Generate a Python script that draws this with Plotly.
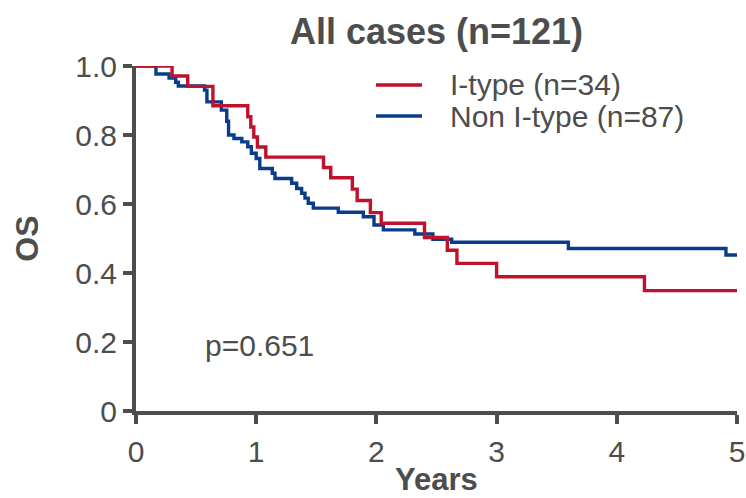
import plotly.graph_objects as go

# I-type (n=34) Kaplan-Meier step curve (years, survival)
itype_t = [0, 0.30, 0.43, 0.64, 0.93, 0.955, 0.98, 1.01, 1.08, 1.56, 1.62, 1.80, 1.84,
           1.95, 2.04, 2.40, 2.59, 2.67, 3.00, 4.23, 5.0]
itype_s = [1.0, 0.971, 0.941, 0.885, 0.853, 0.823, 0.794, 0.765, 0.736, 0.706, 0.676, 0.643,
           0.610, 0.575, 0.544, 0.503, 0.466, 0.428, 0.389, 0.349, 0.349]

# Non I-type (n=87)
non_t = [0, 0.166, 0.275, 0.33, 0.352, 0.57, 0.59, 0.71, 0.755, 0.77, 0.815, 0.88, 0.93,
         0.96, 1.0, 1.03, 1.134, 1.156, 1.295, 1.337, 1.378, 1.406, 1.433, 1.475, 1.683,
         1.891, 1.98, 2.058, 2.32, 2.47, 2.626, 3.597, 4.908, 5.0]
non_s = [1.0, 0.977, 0.965, 0.953, 0.942, 0.93, 0.896, 0.872, 0.84, 0.80, 0.79, 0.78, 0.766,
         0.747, 0.732, 0.703, 0.689, 0.674, 0.66, 0.645, 0.631, 0.617, 0.602, 0.588, 0.576,
         0.563, 0.539, 0.525, 0.513, 0.498, 0.489, 0.471, 0.452, 0.452]

series_names = ["I-type (n=34)", "Non I-type (n=87)"]

x_ticks = [0, 1, 2, 3, 4, 5]
y_ticks = [0, 0.2, 0.4, 0.6, 0.8, 1.0]
y_tick_labels = ["0", "0.2", "0.4", "0.6", "0.8", "1.0"]

RED = "#C0122C"
BLUE = "#0A3C8C"
GREY = "#4D4D4D"
FONT = "Liberation Sans, Arial, sans-serif"

fig = go.Figure()
fig.add_trace(go.Scatter(x=non_t, y=non_s, mode="lines", line_shape="hv",
                         line=dict(color=BLUE, width=3.4), name=series_names[1]))
fig.add_trace(go.Scatter(x=itype_t, y=itype_s, mode="lines", line_shape="hv",
                         line=dict(color=RED, width=3.4), name=series_names[0]))

# p-value
fig.add_annotation(x=0.557, y=0.19, xref="x", yref="y", text="p=0.651", showarrow=False,
                   xanchor="left", yanchor="middle", font=dict(size=30, color=GREY, family=FONT))

# legend (drawn manually to match sample length and row spacing)
legend_rows = [(series_names[0], RED, 0.945), (series_names[1], BLUE, 0.855)]
for label, col, ypos in legend_rows:
    fig.add_shape(type="line", xref="paper", yref="paper", x0=0.3993, x1=0.4759,
                  y0=ypos, y1=ypos, line=dict(color=col, width=3.4))
    fig.add_annotation(x=0.519, y=ypos, xref="paper", yref="paper", text=label,
                       showarrow=False, xanchor="left", yanchor="middle",
                       font=dict(size=30, color=GREY, family=FONT))

# x-axis title as an annotation, sitting at the very bottom like in the reference
fig.add_annotation(x=0.5, y=-0.252, xref="paper", yref="paper", text="<b>Years</b>",
                   showarrow=False, xanchor="center", yanchor="bottom", borderpad=0,
                   font=dict(size=31, color=GREY, family=FONT))

axis_common = dict(showline=True, linewidth=4, linecolor=GREY, ticks="outside",
                   ticklen=9, tickwidth=4, tickcolor=GREY, showgrid=False, zeroline=False,
                   automargin=False, tickfont=dict(size=30, color=GREY, family=FONT))

fig.update_layout(
    width=746, height=498,
    margin=dict(l=136, r=9, t=66, b=87),
    paper_bgcolor="white", plot_bgcolor="white",
    font=dict(family=FONT, color=GREY),
    showlegend=False,
    title=dict(text="<b>All cases (n=121)</b>", x=0.5, xref="paper", y=1 - 31 / 498,
               yref="container", xanchor="center", yanchor="middle",
               font=dict(size=36, color=GREY, family=FONT)),
    xaxis=dict(range=[0, 5], tickvals=x_ticks, ticktext=[str(v) for v in x_ticks],
               ticklabelstandoff=2, **axis_common),
    yaxis=dict(range=[0, 1], tickvals=y_ticks, ticktext=y_tick_labels,
               title=dict(text="<b>OS</b>", font=dict(size=32, color=GREY, family=FONT),
                          standoff=28),
               **axis_common),
)

fig.write_html(
    "out.html",
    config={"displayModeBar": False},
    post_script="document.body.style.margin='0';document.body.style.overflow='hidden';",
)
